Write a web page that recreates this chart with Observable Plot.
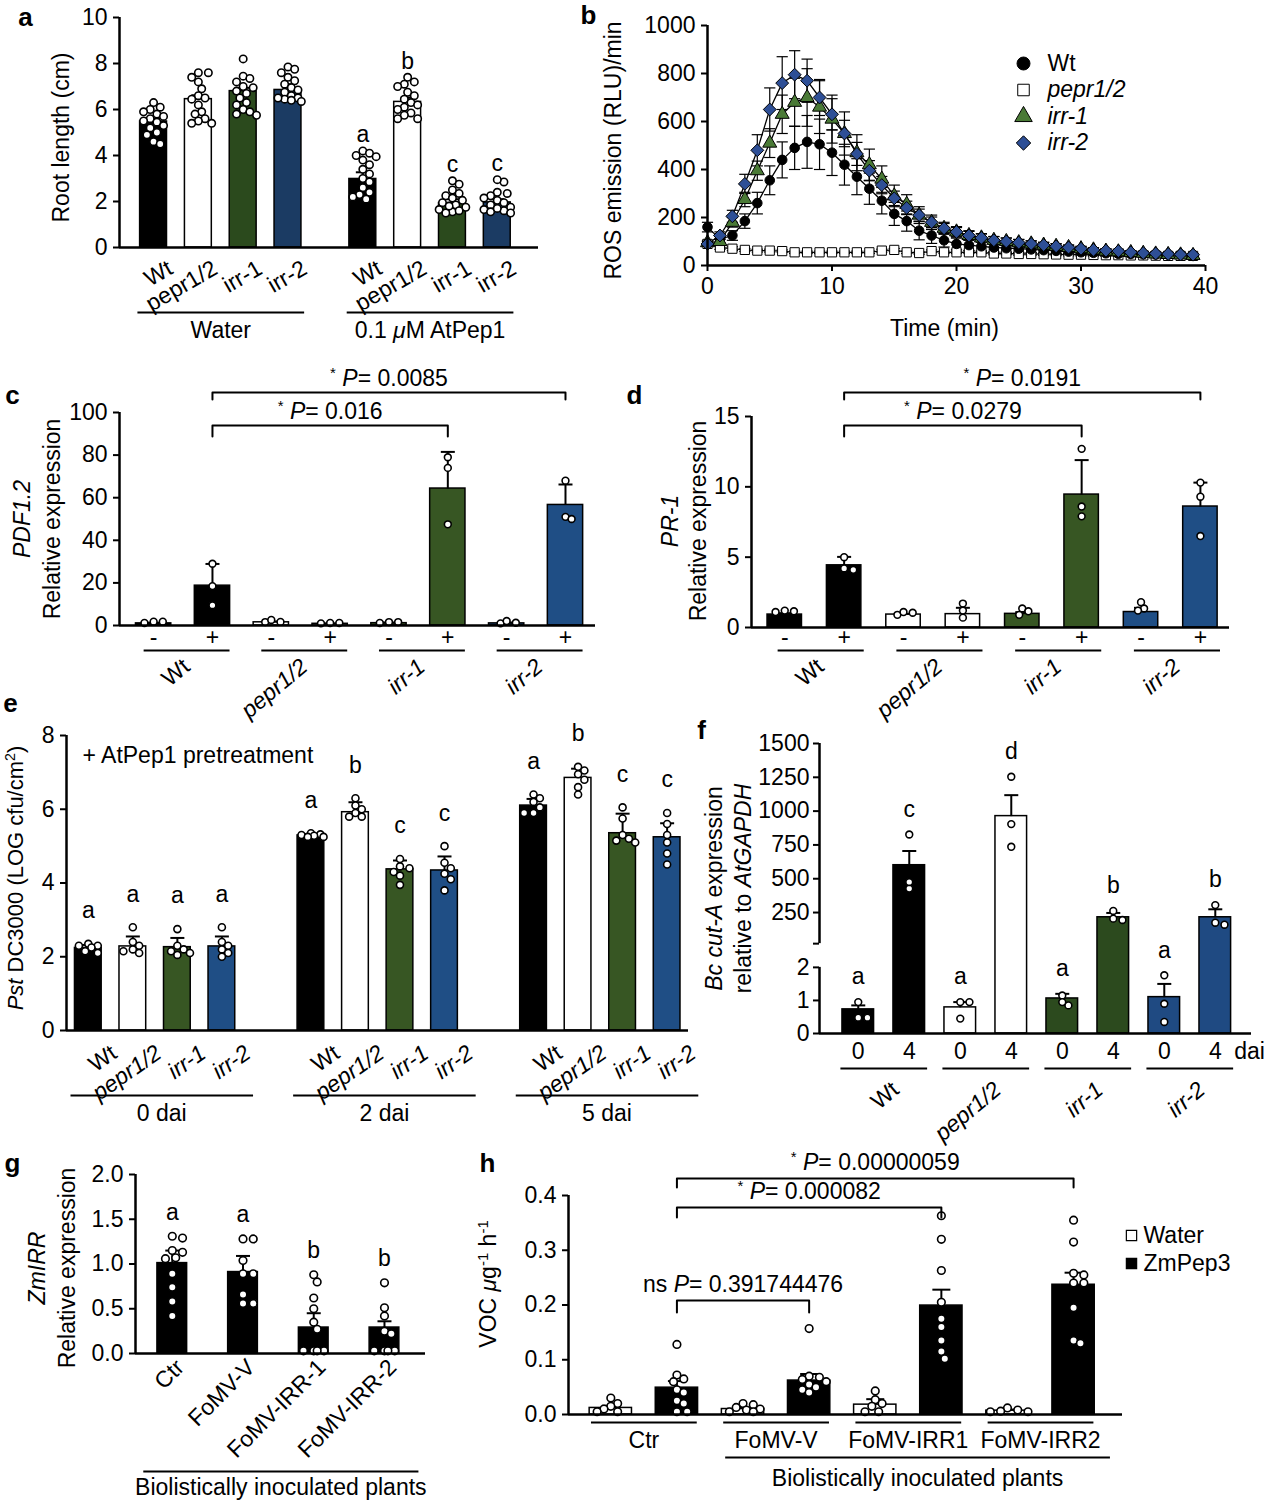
<!DOCTYPE html>
<html><head><meta charset="utf-8">
<script src="https://cdn.jsdelivr.net/npm/d3@7"></script>
<script src="https://cdn.jsdelivr.net/npm/@observablehq/plot@0.6"></script>
<style>
body{margin:0;background:#fff;}
#fig{position:relative;width:1265px;height:1500px;background:#fff;overflow:hidden;}
</style></head><body><div id="fig"></div>
<script>
// ===================== DATA =====================
// Panel a
const aGenotypes = ["Wt","pepr1/2","irr-1","irr-2","Wt","pepr1/2","irr-1","irr-2"];
const aTreatments = ["Water","Water","Water","Water","0.1 _μ_M AtPep1","0.1 _μ_M AtPep1","0.1 _μ_M AtPep1","0.1 _μ_M AtPep1"];
const aMeans = [5.48,6.45,6.8,6.85,2.98,6.33,1.93,1.96];
const aErrors = [0.12,0.17,0.14,0.25,0.29,0.19,0.17,0.14];
const aLetters = ["","","","","a","b","c","c"];
const aPoints = [
  [6.3,6.1,6.0,5.9,5.8,5.7,5.6,5.5,5.45,5.3,5.2,5.0,4.9,4.6,4.5],
  [7.6,7.6,7.4,7.2,6.9,6.6,6.5,6.45,6.2,5.9,5.8,5.6,5.5,5.4,5.4],
  [8.2,7.45,7.35,7.2,7.0,6.95,6.8,6.7,6.5,6.3,6.2,6.0,5.9,5.8,5.75],
  [7.85,7.75,7.6,7.4,7.25,7.1,6.95,6.85,6.75,6.6,6.5,6.45,6.4,6.35,6.5],
  [4.2,4.1,4.0,3.95,3.8,3.6,3.4,3.2,3.0,2.85,2.6,2.4,2.3,2.2,2.1],
  [7.4,7.2,7.1,7.0,6.75,6.6,6.45,6.3,6.2,6.1,6.0,5.85,5.75,5.6,5.6],
  [2.9,2.75,2.5,2.35,2.25,2.15,2.05,1.95,1.85,1.75,1.65,1.55,1.5,1.6,1.8],
  [2.85,2.95,2.4,2.35,2.25,2.15,2.05,1.95,1.85,1.75,1.65,1.6,1.55,1.5,1.7]
];
const aTicks = [0,2,4,6,8,10];

// Panel b
const bTimes = [0,1,2,3,4,5,6,7,8,9,10,11,12,13,14,15,16,17,18,19,20,21,22,23,24,25,26,27,28,29,30,31,32,33,34,35,36,37,38,39];
const bWt = [160,110,125,185,260,355,440,490,515,505,470,420,370,320,270,215,185,145,125,105,90,85,80,75,72,70,67,64,61,58,55,53,51,49,48,47,46,45,45,44];
const bWtErr = [20,15,20,30,45,60,75,90,110,105,95,85,75,65,55,48,42,38,33,28,24,22,20,18,16,15,14,13,12,11,10,10,9,9,8,8,7,7,6,6];
const bPepr = [90,75,70,65,62,62,60,55,55,55,55,55,55,55,62,65,55,52,60,55,55,55,55,50,50,48,48,47,46,45,45,44,43,43,42,42,41,40,40,40];
const bPeprErr = [10,8,8,6,6,6,5,5,5,5,5,5,5,5,6,6,5,5,5,5,5,5,5,5,5,5,5,5,5,5,5,5,5,5,5,5,5,5,5,5];
const bIrr1 = [95,100,180,275,395,510,630,680,700,660,610,550,470,420,360,290,255,210,180,155,140,125,115,105,100,95,90,85,80,75,70,65,60,57,54,51,48,46,44,42];
const bIrr1Err = [10,10,20,30,40,60,80,100,120,110,100,90,75,65,55,45,40,35,30,25,22,20,18,16,15,14,13,12,11,10,10,9,9,8,8,7,7,6,6,5];
const bIrr2 = [90,125,205,340,480,650,760,795,770,700,630,550,465,395,335,280,240,210,180,155,140,125,115,105,100,95,90,85,80,75,70,65,62,60,55,52,50,48,46,45];
const bIrr2Err = [10,15,25,40,65,90,110,100,90,75,65,55,48,42,36,30,28,25,22,20,18,17,16,15,14,13,12,11,10,10,9,9,8,8,7,7,6,6,5,5];
const bYTicks = [0,200,400,600,800,1000];
const bXTicks = [0,10,20,30,40];

// Panel c
const cGenotypes = ["Wt","pepr1/2","irr-1","irr-2"];
const cTreatment = ["-","+"];
const cMeans = [1.0,18.7,1.5,0.8,1.1,64.3,1.0,56.6];
const cErrors = [0.3,10.2,0.4,0.1,0.3,17.2,0.4,9.6];
const cPoints = [[1.2,1.8,1.8],[29,18.5,9.5],[1.6,2.6,1.7],[1.0,1.2,1.2],[1.2,1.6,1.6],[79,74,47.5],[1.0,2.1,1.3],[68,51,50]];
const cTests = [{from:1,to:5,label:"^*^ _P_= 0.016"},{from:1,to:7,label:"^*^ _P_= 0.0085"}];
const cTicks = [0,20,40,60,80,100];

// Panel d
const dMeans = [0.92,4.42,0.92,0.95,0.97,9.45,1.1,8.6];
const dErrors = [0.1,0.6,0.05,0.45,0.12,2.45,0.3,1.7];
const dPoints = [[1.1,1.2,1.15],[5.0,4.1,4.2],[0.9,1.1,1.05],[1.7,1.2,0.7],[1.35,0.9,1.15],[12.7,8.6,7.9],[1.8,1.35,1.2],[10.3,9.3,6.5]];
const dTests = [{from:1,to:5,label:"^*^ _P_= 0.0279"},{from:1,to:7,label:"^*^ _P_= 0.0191"}];
const dTicks = [0,5,10,15];

// Panel e
const eGenotypes = ["Wt","pepr1/2","irr-1","irr-2"];
const eDays = ["0 dai","2 dai","5 dai"];
const eMeans = [2.24,2.28,2.26,2.28, 5.29,5.92,4.37,4.34, 6.1,6.85,5.35,5.24];
const eErrors = [0.08,0.27,0.25,0.27, 0.04,0.27,0.24,0.38, 0.18,0.25,0.53,0.38];
const eLetters = ["a","a","a","a","a","b","c","c","a","b","c","c"];
const ePoints = [
  [2.35,2.3,2.3,2.25,2.15,2.1],[2.8,2.4,2.3,2.2,2.15,2.1],[2.75,2.3,2.2,2.15,2.1,2.05],[2.8,2.4,2.3,2.2,2.1,2.0],
  [5.35,5.32,5.3,5.28,5.25,5.25],[6.3,6.1,6.0,5.9,5.8,5.8],[4.65,4.45,4.4,4.3,4.2,3.95],[5.0,4.55,4.4,4.25,4.1,3.8],
  [6.4,6.3,6.2,6.05,5.9,5.9],[7.15,7.05,6.95,6.8,6.6,6.4],[6.05,5.75,5.3,5.2,5.15,5.1],[5.9,5.6,5.3,5.1,4.8,4.5]
];
const eTicks = [0,2,4,6,8];

// Panel f
const fGenotypes = ["Wt","pepr1/2","irr-1","irr-2"];
const fDai = ["0","4"];
const fMeans = [0.73,600,0.79,963,1.06,215,1.1,215];
const fErrors = [0.12,105,0.16,155,0.14,32,0.4,59];
const fLetters = ["a","c","a","d","a","b","a","b"];
const fPoints = [[0.95,0.48,0.48],[827,427,476],[0.95,0.95,0.45],[1254,904,736],[1.15,0.85,0.95],[262,195,205],[1.76,0.9,0.35],[305,160,175]];
const fTicks = [0,1,2,20,250,500,750,1000,1250,1500];
const fTickText = ["0","1","2","","250","500","750","1000","1250","1500"];

// Panel g
const gGroups = ["Ctr","FoMV-V","FoMV-IRR-1","FoMV-IRR-2"];
const gMeans = [1.01,0.91,0.29,0.29];
const gErrors = [0.14,0.18,0.16,0.07];
const gLetters = ["a","a","b","b"];
const gPoints = [
  [1.29,1.31,1.13,1.15,1.06,1.07,0.89,0.74,0.58,0.42],
  [1.28,1.28,1.04,0.89,0.89,0.66,0.56,0.56],
  [0.88,0.8,0.62,0.5,0.35,0.27,0.03,0.03,0.03,0.03],
  [0.79,0.51,0.42,0.25,0.22,0.03,0.03,0.03,0.03]
];
const gTicks = [0,0.5,1,1.5,2];

// Panel h
const hGroups = ["Ctr","FoMV-V","FoMV-IRR1","FoMV-IRR2"];
const hTreatments = ["Water","ZmPep3"];
const hMeans = [0.012,0.049,0.01,0.062,0.018,0.199,0.007,0.237];
const hErrors = [0.004,0.012,0.002,0.012,0.01,0.029,0.002,0.022];
const hPoints = [
  [0.03,0.02,0.015,0.01,0.005,0.005],
  [0.128,0.072,0.065,0.06,0.045,0.04,0.025,0.02,0.005,0.005],
  [0.02,0.018,0.013,0.01,0.008,0.005,0.005],
  [0.157,0.07,0.068,0.064,0.06,0.055,0.05,0.045,0.04],
  [0.043,0.027,0.02,0.015,0.005,0.005],
  [0.363,0.32,0.263,0.205,0.175,0.16,0.135,0.115,0.102],
  [0.012,0.008,0.006,0.005,0.005],
  [0.355,0.315,0.258,0.255,0.24,0.24,0.195,0.135,0.13]
];
const hTests = [{from:1,to:3,label:"ns _P_= 0.391744476"},{from:1,to:5,label:"^*^ _P_= 0.000082"},{from:1,to:7,label:"^*^ _P_= 0.00000059"}];
const hTicks = [0,0.1,0.2,0.3,0.4];
const hSubgroupLabel = "Biolistically inoculated plants";

// ===================== STYLE =====================
const FONT = '"Liberation Sans", Arial, Helvetica, sans-serif';
const STYLE = {background: "transparent", overflow: "visible", fontFamily: FONT, fontSize: "23px", color: "black"};
const aColors = {"Wt": "#000000", "pepr1/2": "#ffffff", "irr-1": "#2b4a1d", "irr-2": "#1b3b63"};
const cColors = {"Wt": "#000000", "pepr1/2": "#ffffff", "irr-1": "#375623", "irr-2": "#1f4e85"};
const fColors = {"Wt": "#000000", "pepr1/2": "#ffffff", "irr-1": "#2c4a1e", "irr-2": "#1f4a82"};
const B_GREEN = "#4a7a36", B_BLUE = "#2e4f96";
const fig = document.getElementById("fig");
const ital = s => s === "Wt" ? s : `_${s}_`;

// ===================== HELPERS =====================
function rich(svg) {
  svg.querySelectorAll("text").forEach(t => {
    const nodes = t.querySelector("tspan") ? [...t.querySelectorAll("tspan")] : [t];
    nodes.forEach(node => {
      const s = node.textContent;
      if (!/[_^]/.test(s)) return;
      node.textContent = "";
      s.split(/(_[^_]*_|\^[^^]*\^)/).filter(p => p !== "").forEach(p => {
        const ts = document.createElementNS("http://www.w3.org/2000/svg", "tspan");
        if (p.length > 1 && p[0] === "_" && p[p.length - 1] === "_") { ts.textContent = p.slice(1, -1); ts.setAttribute("font-style", "italic"); }
        else if (p.length > 1 && p[0] === "^" && p[p.length - 1] === "^") { ts.textContent = p.slice(1, -1); ts.setAttribute("baseline-shift", "super"); ts.setAttribute("font-size", "65%"); }
        else ts.textContent = p;
        node.appendChild(ts);
      });
    });
  });
}
function place(svg, left, top) {
  svg.style.position = "absolute"; svg.style.left = left + "px"; svg.style.top = top + "px";
  rich(svg); fig.appendChild(svg);
}
function swarm(py, r, maxOff) {
  const n = py.length, off = new Array(n).fill(0), placed = [];
  const step = r * 0.9, cands = [0];
  for (let k = 1; k * step <= maxOff + 0.01; k++) cands.push(k * step, -k * step);
  const order = d3.range(n).sort((a, b) => py[b] - py[a]);
  for (const i of order) {
    let best = 0, bestD = -1;
    for (const c of cands) {
      let md = Infinity;
      for (const p of placed) md = Math.min(md, Math.hypot(p.x - c, p.y - py[i]));
      if (md >= 2 * r * 0.95) { best = c; break; }
      if (md > bestD) { bestD = md; best = c; }
    }
    off[i] = best; placed.push({x: best, y: py[i]});
  }
  return off;
}
function yAxis(ticks, fmt) {
  return Plot.axisY({ticks, tickFormat: fmt, tickSize: 6, tickPadding: 6, strokeWidth: 2, label: null});
}
function barPanel(o) {
  const yf = o.yf || (v => v);
  const fw = o.width - o.ml - o.mr, fh = o.height - o.mt - o.mb;
  const kx = fw / (o.xDomain[1] - o.xDomain[0]);
  const ky = fh / (o.yDomain[1] - o.yDomain[0]);
  const bars = o.means.map((m, i) => ({
    pos: o.pos[i], mean: m, err: o.errs[i], fill: o.fills[i],
    letter: o.letters ? o.letters[i] : "",
    top: Math.max(m + o.errs[i], ...o.points[i])
  }));
  const dots = [];
  o.points.forEach((ps, i) => {
    const off = swarm(ps.map(v => yf(v) * ky), o.r, o.halfW * kx * (o.spread || 1));
    ps.forEach((v, j) => dots.push({x: o.pos[i] + off[j] / kx, y: yf(v)}));
  });
  const cap = (o.capPx || 7) / kx;
  return {kx, ky, marks: [
    Plot.rect(bars, {x1: d => d.pos - o.halfW, x2: d => d.pos + o.halfW, y1: () => yf(0), y2: d => yf(d.mean), fill: d => d.fill, stroke: "black", strokeWidth: 1.5}),
    Plot.link(bars, {x1: "pos", x2: "pos", y1: d => yf(d.mean), y2: d => yf(d.mean + d.err), stroke: "black", strokeWidth: 2}),
    Plot.link(bars, {x1: d => d.pos - cap, x2: d => d.pos + cap, y1: d => yf(d.mean + d.err), y2: d => yf(d.mean + d.err), stroke: "black", strokeWidth: 2}),
    Plot.dot(dots, {x: "x", y: "y", r: o.r, fill: "white", stroke: "black", strokeWidth: 1.6}),
    Plot.text(bars.filter(d => d.letter), {x: "pos", y: d => yf(d.top), text: "letter", dy: o.letterDy || -20}),
    Plot.ruleY([0], {strokeWidth: 2.5})
  ]};
}
function bracketMarks(tests, pos, ys, legs, ky, dy) {
  const pts = [];
  tests.forEach((t, k) => {
    const y = ys[k], yl = y - legs[k] / ky;
    pts.push({k, x: pos[t.from], y: yl}, {k, x: pos[t.from], y}, {k, x: pos[t.to], y}, {k, x: pos[t.to], y: yl});
  });
  const labels = tests.map((t, k) => ({x: (pos[t.from] + pos[t.to]) / 2, y: ys[k], label: t.label}));
  return [Plot.line(pts, {x: "x", y: "y", z: "k", stroke: "black", strokeWidth: 2}),
          Plot.text(labels, {x: "x", y: "y", text: "label", dy})];
}
// text under the frame, anchored at the bottom edge
const under = (data, o) => Plot.text(data, {frameAnchor: "bottom", lineAnchor: "middle", textAnchor: "middle", ...o});
const panelLetter = (s, dx, dy) => Plot.text([s], {text: d => d, frameAnchor: "top-left", textAnchor: "middle", lineAnchor: "middle", dx, dy, fontWeight: "bold", fontSize: 26});
const yTitle = (s, dx, dy, fs) => Plot.text([s], {text: d => d, frameAnchor: "left", textAnchor: "middle", lineAnchor: "middle", rotate: -90, dx, dy: dy || 0, fontSize: fs || 23});
const base = L => ({width: L.width, height: L.height, marginLeft: L.ml, marginRight: L.mr, marginTop: L.mt, marginBottom: L.mb, color: {type: "identity"}, style: STYLE});

// ===================== PANEL a =====================
{
  const L = {width: 560, height: 350, ml: 119, mr: 22, mt: 17, mb: 103};
  const xd = [-0.76, 8.59];
  const pos = aGenotypes.map((g, i) => Math.floor(i / 4) * 4.67 + (i % 4));
  const P = barPanel({...L, xDomain: xd, yDomain: [0, 10], pos, means: aMeans, errs: aErrors, points: aPoints,
    fills: aGenotypes.map(g => aColors[g]), letters: aLetters, halfW: 0.30, r: 3.7, letterDy: -16, capPx: 7});
  const groups = d3.groups(pos.map((p, i) => ({p, t: aTreatments[i]})), d => d.t)
    .map(([t, v]) => ({label: t, x1: d3.min(v, d => d.p) - 0.36, x2: d3.max(v, d => d.p) + 0.36}));
  groups.forEach(g => g.mid = (g.x1 + g.x2) / 2);
  place(Plot.plot({...base(L), x: {domain: xd, axis: null}, y: {domain: [0, 10], label: null},
    marks: [
      ...P.marks,
      Plot.ruleX([xd[0]], {strokeWidth: 2.5}),
      yAxis(aTicks, d3.format("d")),
      under(pos.map((p, i) => ({p, t: aGenotypes[i]})), {x: "p", text: "t", rotate: -30, textAnchor: "end", dx: 17, dy: 19}),
      Plot.link(groups, {x1: "x1", x2: "x2", y1: () => 0, y2: () => 0, dy: 65, strokeWidth: 2}),
      under(groups, {x: "mid", text: "label", dy: 83}),
      yTitle("Root length (cm)", -58, 5),
      panelLetter("a", -94, 0)
    ]}), 0, 0);
}

// ===================== PANEL b =====================
{
  const L = {width: 690, height: 350, ml: 132, mr: 60, mt: 25, mb: 85};
  const defs = [
    {name: "pepr1/2", label: "_pepr1/2_", values: bPepr, errors: bPeprErr, symbol: "square", r: 5.2, fill: "white", li: 1},
    {name: "Wt", label: "Wt", values: bWt, errors: bWtErr, symbol: "circle", r: 4.8, fill: "black", li: 0},
    {name: "irr-1", label: "_irr-1_", values: bIrr1, errors: bIrr1Err, symbol: "triangle", r: 5.2, fill: B_GREEN, li: 2},
    {name: "irr-2", label: "_irr-2_", values: bIrr2, errors: bIrr2Err, symbol: "diamond2", r: 5.8, fill: B_BLUE, li: 3}
  ];
  const rows = [];
  defs.forEach(s => bTimes.forEach((t, i) => rows.push({series: s.name, t, v: s.values[i], e: s.errors[i]})));
  const capW = 0.45;
  place(Plot.plot({...base(L), x: {domain: [0, 40], label: null}, y: {domain: [0, 1000], label: null},
    marks: [
      Plot.line(rows, {x: "t", y: "v", z: "series", stroke: "black", strokeWidth: 1.3}),
      Plot.link(rows, {x1: "t", x2: "t", y1: d => d.v - d.e, y2: d => d.v + d.e, stroke: "black", strokeWidth: 1.2}),
      Plot.link(rows, {x1: d => d.t - capW, x2: d => d.t + capW, y1: d => d.v + d.e, y2: d => d.v + d.e, stroke: "black", strokeWidth: 1.2}),
      Plot.link(rows, {x1: d => d.t - capW, x2: d => d.t + capW, y1: d => d.v - d.e, y2: d => d.v - d.e, stroke: "black", strokeWidth: 1.2}),
      ...defs.map(s => Plot.dot(rows.filter(d => d.series === s.name), {x: "t", y: "v", symbol: s.symbol, r: s.r, fill: s.fill, stroke: "black", strokeWidth: 1})),
      Plot.ruleX([0], {strokeWidth: 2.5}),
      Plot.ruleY([0], {strokeWidth: 2.5}),
      yAxis(bYTicks, d3.format("d")),
      Plot.axisX({ticks: bXTicks, tickFormat: d3.format("d"), tickSize: 6, tickPadding: 6, strokeWidth: 2, label: null}),
      ...defs.map(s => Plot.dot([s], {frameAnchor: "top-left", dx: 316, dy: 38 + s.li * 26.5, symbol: s.symbol, r: 6.5, fill: s.fill, stroke: "black", strokeWidth: 1})),
      ...defs.map(s => Plot.text([s], {frameAnchor: "top-left", dx: 340, dy: 38 + s.li * 26.5, text: d => d.label, textAnchor: "start", lineAnchor: "middle"})),
      under(["Time (min)"], {text: d => d, dx: -12, dy: 63}),
      yTitle("ROS emission (RLU)/min", -94, 5),
      panelLetter("b", -119, -10)
    ]}), 575, 0);
}

// ===================== PANEL c & d =====================
function pairPanel(cfg) {
  const L = cfg.L, xd = cfg.xd;
  const rows = cGenotypes.flatMap(g => cTreatment.map(t => ({g, t})));
  const pos = rows.map((_, i) => i);
  const P = barPanel({...L, xDomain: xd, yDomain: cfg.yd, pos, means: cfg.means, errs: cfg.errs, points: cfg.points,
    fills: rows.map(r => cColors[r.g]), halfW: cfg.halfW, r: 3.4, capPx: 7});
  const geno = cGenotypes.map((g, k) => ({label: ital(g), x1: pos[2 * k] + cfg.ul[0], x2: pos[2 * k + 1] + cfg.ul[1]}));
  geno.forEach(d => d.mid = (d.x1 + d.x2) / 2);
  return Plot.plot({...base(L), x: {domain: xd, axis: null}, y: {domain: cfg.yd, label: null},
    marks: [
      ...P.marks,
      Plot.ruleX([xd[0]], {strokeWidth: 2.5}),
      yAxis(cfg.ticks, d3.format("d")),
      under(rows.map((r, i) => ({p: pos[i], s: r.t})), {x: "p", text: "s", dy: cfg.signDy}),
      Plot.link(geno, {x1: "x1", x2: "x2", y1: () => 0, y2: () => 0, dy: cfg.ulDy, strokeWidth: 2}),
      under(geno, {x: "mid", text: "label", rotate: -40, textAnchor: "end", dx: cfg.labDx, dy: cfg.labDy}),
      ...bracketMarks(cfg.tests, pos, cfg.brY, cfg.brLeg, P.ky, -14),
      yTitle(cfg.gene, cfg.t1dx, cfg.tdy),
      yTitle("Relative expression", cfg.t2dx, cfg.tdy),
      panelLetter(cfg.letter, cfg.ldx, cfg.ldy)
    ]});
}
place(pairPanel({L: {width: 620, height: 345, ml: 119, mr: 25, mt: 57, mb: 75}, xd: [-0.58, 7.51], yd: [0, 100],
  means: cMeans, errs: cErrors, points: cPoints, halfW: 0.3, ticks: cTicks, ul: [-0.17, 0.29], signDy: 12, ulDy: 25, labDx: 0, labDy: 38,
  tests: cTests, brY: [93.9, 109.4], brLeg: [11, 7], gene: "_PDF1.2_", t1dx: -97, t2dx: -67, tdy: 0, letter: "c", ldx: -107, ldy: -17}), 0, 355);
place(pairPanel({L: {width: 645, height: 345, ml: 131, mr: 36, mt: 61, mb: 73}, xd: [-0.56, 7.49], yd: [0, 15],
  means: dMeans, errs: dErrors, points: dPoints, halfW: 0.29, ticks: dTicks, ul: [-0.12, 0.33], signDy: 10, ulDy: 23, labDx: 0, labDy: 36,
  tests: dTests, brY: [14.36, 16.7], brLeg: [11, 7], gene: "_PR-1_", t1dx: -81, t2dx: -53, tdy: -1, letter: "d", ldx: -117, ldy: -21}), 620, 355);

// ===================== PANEL e =====================
{
  const L = {width: 690, height: 440, ml: 66, mr: 2, mt: 35, mb: 110};
  const xd = [-0.49, 13.48];
  const rows = eDays.flatMap(day => eGenotypes.map(g => ({day, g})));
  const pos = rows.map((_, i) => Math.floor(i / 4) * 5 + (i % 4));
  const P = barPanel({...L, xDomain: xd, yDomain: [0, 8], pos, means: eMeans, errs: eErrors, points: ePoints,
    fills: rows.map(r => cColors[r.g]), letters: eLetters, halfW: 0.3, r: 3.5, letterDy: -33, capPx: 7});
  const groups = eDays.map(day => {
    const c = d3.mean(pos.filter((p, i) => rows[i].day === day)) + 0.15;
    return {label: day, x1: c - 2.05, x2: c + 2.05, mid: c};
  });
  place(Plot.plot({...base(L), x: {domain: xd, axis: null}, y: {domain: [0, 8], label: null},
    marks: [
      ...P.marks,
      Plot.ruleX([xd[0]], {strokeWidth: 2.5}),
      yAxis(eTicks, d3.format("d")),
      under(rows.map((r, i) => ({p: pos[i], t: ital(r.g)})), {x: "p", text: "t", rotate: -35, textAnchor: "end", dx: 26, dy: 20}),
      Plot.link(groups, {x1: "x1", x2: "x2", y1: () => 0, y2: () => 0, dy: 65, strokeWidth: 2}),
      under(groups, {x: "mid", text: "label", dy: 83}),
      Plot.text(["+ AtPep1 pretreatment"], {text: d => d, frameAnchor: "top-left", textAnchor: "start", lineAnchor: "middle", dx: 16, dy: 20}),
      yTitle("_Pst_ DC3000 (LOG cfu/cm^2^)", -51, -5, 22),
      panelLetter("e", -56, -32)
    ]}), 0, 700);
}

// ===================== PANEL f =====================
{
  const L = {width: 575, height: 440, ml: 129, mr: 14, mt: 43, mb: 107};
  const xd = [-0.76, 7.71];
  const fy = v => v <= 2 ? v * 33 : 87 + v * 0.135;   // broken axis: 0-2 below, 20-1500 above
  const yd = [0, fy(1500)];
  const rows = fGenotypes.flatMap(g => fDai.map(t => ({g, t})));
  const pos = rows.map((_, i) => i);
  const P = barPanel({...L, xDomain: xd, yDomain: yd, yf: fy, pos, means: fMeans, errs: fErrors, points: fPoints,
    fills: rows.map(r => fColors[r.g]), letters: fLetters, halfW: 0.31, r: 3.4, letterDy: -25, capPx: 7});
  const tickMap = new Map(fTicks.map((v, i) => [fy(v), fTickText[i]]));
  const geno = fGenotypes.map((g, k) => {
    const c = (pos[2 * k] + pos[2 * k + 1]) / 2;
    return {label: ital(g), x1: c - 0.85, x2: c + 0.85, mid: c};
  });
  place(Plot.plot({...base(L), x: {domain: xd, axis: null}, y: {domain: yd, label: null},
    marks: [
      ...P.marks,
      Plot.ruleX([xd[0]], {y1: 0, y2: fy(2), strokeWidth: 2.5}),
      Plot.ruleX([xd[0]], {y1: fy(20), y2: fy(1500), strokeWidth: 2.5}),
      Plot.axisY({ticks: fTicks.map(fy), tickFormat: d => tickMap.get(d), tickSize: 6, tickPadding: 4, strokeWidth: 2, label: null}),
      under(rows.map((r, i) => ({p: pos[i], s: r.t})), {x: "p", text: "s", dy: 18}),
      under([{p: pos[pos.length - 1], s: "dai"}], {x: "p", text: "s", textAnchor: "start", dx: 19, dy: 18}),
      Plot.link(geno, {x1: "x1", x2: "x2", y1: () => 0, y2: () => 0, dy: 35, strokeWidth: 2}),
      under(geno, {x: "mid", text: "label", rotate: -40, textAnchor: "end", dx: 12, dy: 53}),
      yTitle("_Bc cut-A_ expression", -105, 0),
      yTitle("relative to _AtGAPDH_", -76, 0),
      panelLetter("f", -118, -13)
    ]}), 690, 700);
}

// ===================== PANEL g =====================
{
  const L = {width: 460, height: 355, ml: 135, mr: 35, mt: 29, mb: 147};
  const xd = [-0.52, 3.58];
  const pos = gGroups.map((_, i) => i);
  const P = barPanel({...L, xDomain: xd, yDomain: [0, 2], pos, means: gMeans, errs: gErrors, points: gPoints,
    fills: gGroups.map(() => "#000000"), letters: gLetters, halfW: 0.21, r: 3.8, letterDy: -24, capPx: 7, spread: 1.1});
  const ul = [{x1: pos[0] - 0.41, x2: pos[pos.length - 1] + 0.48, label: hSubgroupLabel}];
  ul.forEach(d => d.mid = (d.x1 + d.x2) / 2);
  place(Plot.plot({...base(L), x: {domain: xd, axis: null}, y: {domain: [0, 2], label: null},
    marks: [
      ...P.marks,
      Plot.ruleX([xd[0]], {strokeWidth: 2.5}),
      yAxis(gTicks, d3.format(".1f")),
      under(pos.map((p, i) => ({p, t: gGroups[i]})), {x: "p", text: "t", rotate: -45, textAnchor: "end", dx: 8, dy: 10}),
      Plot.link(ul, {x1: "x1", x2: "x2", y1: () => 0, y2: () => 0, dy: 118, strokeWidth: 2}),
      under(ul, {x: "mid", text: "label", dy: 134}),
      yTitle("_ZmIRR_", -98, 4),
      yTitle("Relative expression", -68, 4),
      panelLetter("g", -123, -11)
    ]}), 0, 1145);
}

// ===================== PANEL h =====================
{
  const L = {width: 805, height: 355, ml: 108, mr: 143, mt: 50, mb: 86};
  const xd = [-0.64, 7.74];
  const rows = hGroups.flatMap(g => hTreatments.map(t => ({g, t})));
  const pos = rows.map((_, i) => i);
  const P = barPanel({...L, xDomain: xd, yDomain: [0, 0.4], pos, means: hMeans, errs: hErrors, points: hPoints,
    fills: rows.map(r => r.t === "Water" ? "#ffffff" : "#000000"), halfW: 0.32, r: 3.8, capPx: 9});
  const groups = hGroups.map((g, k) => {
    const c = (pos[2 * k] + pos[2 * k + 1]) / 2;
    return {label: g, x1: c - 0.8, x2: c + 0.8, mid: c};
  });
  const ul = [{x1: pos[2] - 0.27, x2: pos[7] + 0.55, label: hSubgroupLabel}];
  ul.forEach(d => d.mid = (d.x1 + d.x2) / 2);
  const leg = hTreatments.map((t, i) => ({t, i, fill: t === "Water" ? "white" : "black"}));
  place(Plot.plot({...base(L), x: {domain: xd, axis: null}, y: {domain: [0, 0.4], label: null},
    marks: [
      ...P.marks,
      Plot.ruleX([xd[0]], {strokeWidth: 2.5}),
      yAxis(hTicks, d3.format(".1f")),
      Plot.link(groups, {x1: "x1", x2: "x2", y1: () => 0, y2: () => 0, dy: 8, strokeWidth: 2}),
      under(groups, {x: "mid", text: "label", dy: 26}),
      Plot.link(ul, {x1: "x1", x2: "x2", y1: () => 0, y2: () => 0, dy: 43, strokeWidth: 2}),
      under(ul, {x: "mid", text: "label", dy: 64}),
      ...bracketMarks(hTests, pos, [0.208, 0.378, 0.431], [12, 10, 9], P.ky, -16),
      ...leg.map(d => Plot.dot([d], {frameAnchor: "top-right", dx: 9, dy: 40 + d.i * 28, symbol: "square", r: 5.8, fill: d.fill, stroke: "black", strokeWidth: 1.2})),
      ...leg.map(d => Plot.text([d], {frameAnchor: "top-right", dx: 21, dy: 40 + d.i * 28, text: "t", textAnchor: "start", lineAnchor: "middle"})),
      yTitle("VOC _μ_g^-1^ h^-1^", -80, -21),
      panelLetter("h", -81, -32)
    ]}), 460, 1145);
}
</script></body></html>
